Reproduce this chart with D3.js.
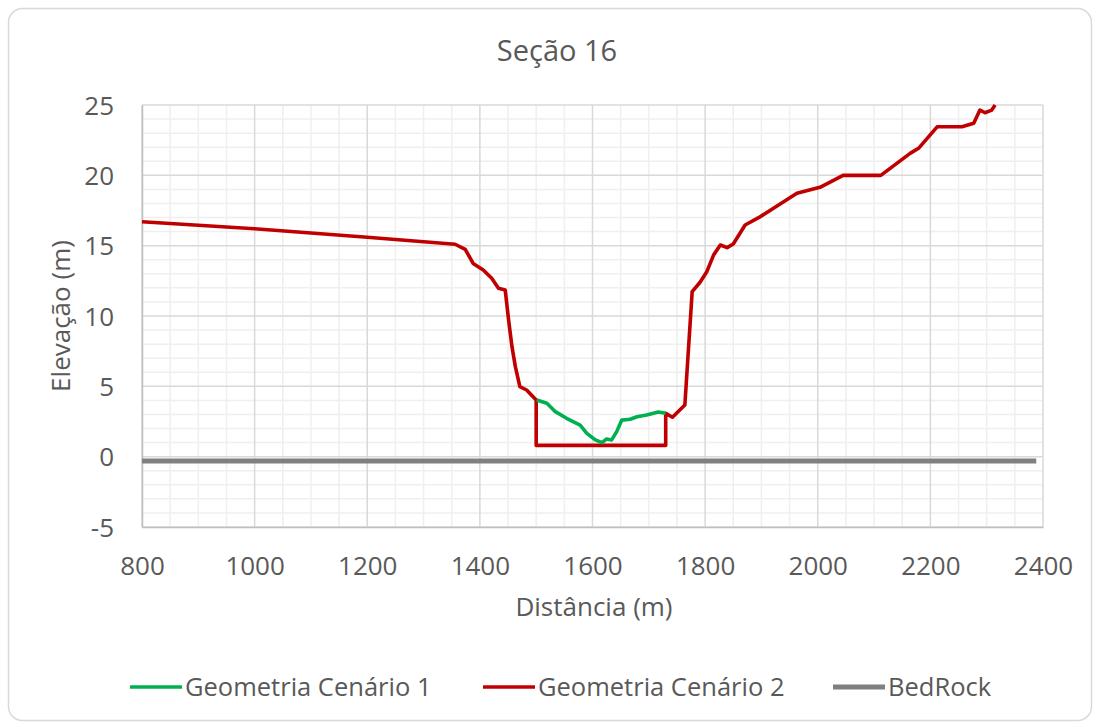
<!DOCTYPE html>
<html>
<head>
<meta charset="utf-8">
<script src="https://cdn.jsdelivr.net/npm/d3@7"></script>
<style>
  html, body { margin: 0; padding: 0; background: #ffffff; }
  svg { display: block; }
  text { font-family: "Open Sans", sans-serif; fill: #595959; }
</style>
</head>
<body>
<svg id="chart" width="1100" height="727"></svg>
<script>
// Cross-section profile, Seção 16
const title = "Seção 16";
const xTicks = [800, 1000, 1200, 1400, 1600, 1800, 2000, 2200, 2400];
const yTicks = [-5, 0, 5, 10, 15, 20, 25];

// Geometria Cenário 1 (natural channel bed)
const cenario1 = [
  [1501, 4.03], [1519, 3.8], [1534, 3.2], [1554, 2.73], [1578, 2.25],
  [1590, 1.66], [1605, 1.19], [1617, 1.0], [1625, 1.26], [1634, 1.19],
  [1643, 1.78], [1652, 2.6], [1667, 2.66], [1679, 2.84], [1696, 2.96],
  [1717, 3.18], [1730, 3.08]
];

// Geometria Cenário 2 (banks with the excavated rectangular channel)
const cenario2 = [
  [800, 16.7], [1000, 16.2], [1200, 15.6], [1356, 15.1], [1374, 14.74],
  [1388, 13.74], [1406, 13.27], [1421, 12.68], [1433, 11.97], [1445, 11.85],
  [1451, 9.72], [1457, 7.82], [1463, 6.4], [1471, 4.98], [1483, 4.74],
  [1500, 4.03], [1500, 0.8], [1730, 0.8], [1730, 3.08], [1742, 2.8],
  [1764, 3.67], [1777, 11.73], [1791, 12.4], [1803, 13.15], [1815, 14.33],
  [1827, 15.05], [1839, 14.86], [1850, 15.12], [1871, 16.47], [1895, 16.99],
  [1963, 18.72], [2004, 19.15], [2045, 20.0], [2112, 20.0], [2164, 21.56],
  [2179, 21.92], [2212, 23.45], [2256, 23.45], [2277, 23.7], [2288, 24.64],
  [2297, 24.45], [2309, 24.64], [2315, 25.0]
];

// BedRock level
const bedrock = [[800, -0.3], [2388, -0.3]];

const legendItems = [
  { label: "Geometria Cenário 1", color: "#00b050" },
  { label: "Geometria Cenário 2", color: "#c00000" },
  { label: "BedRock", color: "#808080" }
];

const svg = d3.select("#chart");

// outer chart frame
svg.append("rect")
  .attr("x", 8.5).attr("y", 8.5)
  .attr("width", 1083).attr("height", 712)
  .attr("rx", 14)
  .attr("fill", "#ffffff")
  .attr("stroke", "#d9d9d9")
  .attr("stroke-width", 1.5);

const plot = { left: 142, right: 1043, top: 105, bottom: 527 };

const x = d3.scaleLinear().domain([800, 2400]).range([plot.left, plot.right]);
const y = d3.scaleLinear().domain([-5, 25]).range([plot.bottom, plot.top]);

const g = svg.append("g");

// minor gridlines
g.append("g").selectAll("line")
  .data(d3.range(800, 2401, 50).filter(v => v % 200 !== 0))
  .join("line")
  .attr("x1", d => x(d)).attr("x2", d => x(d))
  .attr("y1", plot.top).attr("y2", plot.bottom)
  .attr("stroke", "#efefef").attr("stroke-width", 1.5);
g.append("g").selectAll("line")
  .data(d3.range(-5, 26, 1).filter(v => v % 5 !== 0))
  .join("line")
  .attr("x1", plot.left).attr("x2", plot.right)
  .attr("y1", d => y(d)).attr("y2", d => y(d))
  .attr("stroke", "#efefef").attr("stroke-width", 1.5);

// major gridlines
g.append("g").selectAll("line")
  .data(xTicks)
  .join("line")
  .attr("x1", d => x(d)).attr("x2", d => x(d))
  .attr("y1", plot.top).attr("y2", plot.bottom)
  .attr("stroke", "#d9d9d9").attr("stroke-width", 1.5);
g.append("g").selectAll("line")
  .data(yTicks)
  .join("line")
  .attr("x1", plot.left).attr("x2", plot.right)
  .attr("y1", d => y(d)).attr("y2", d => y(d))
  .attr("stroke", "#d9d9d9").attr("stroke-width", 1.5);

// axes
const fmt = d => String(d);
const xAxis = d3.axisBottom(x).tickValues(xTicks).tickFormat(fmt).tickSize(0);
const yAxis = d3.axisLeft(y).tickValues(yTicks).tickFormat(fmt).tickSize(0);

const gx = svg.append("g").attr("transform", `translate(0,${plot.bottom})`).call(xAxis);
gx.select(".domain").attr("stroke", "#bfbfbf").attr("stroke-width", 1.5);
gx.selectAll("text")
  .attr("y", 48).attr("dy", null)
  .style("font-size", "26px").attr("fill", "#595959");

const gy = svg.append("g").attr("transform", `translate(${plot.left},0)`).call(yAxis);
gy.select(".domain").attr("stroke", "#bfbfbf").attr("stroke-width", 1.5);
gy.selectAll("text")
  .attr("x", -28).attr("dy", "0.35em")
  .style("font-size", "26px").attr("fill", "#595959");

// series
const line = d3.line().x(d => x(d[0])).y(d => y(d[1]));

svg.append("path").datum(bedrock)
  .attr("d", line).attr("fill", "none")
  .attr("stroke", "#808080").attr("stroke-width", 5);

svg.append("path").datum(cenario2)
  .attr("d", line).attr("fill", "none")
  .attr("stroke", "#c00000").attr("stroke-width", 3.6)
  .attr("stroke-linejoin", "round");

svg.append("path").datum(cenario1)
  .attr("d", line).attr("fill", "none")
  .attr("stroke", "#00b050").attr("stroke-width", 3.6)
  .attr("stroke-linejoin", "round");

// title
svg.append("text")
  .attr("x", 557).attr("y", 61)
  .attr("text-anchor", "middle")
  .style("font-size", "29px")
  .text(title);

// axis titles
svg.append("text")
  .attr("x", 594).attr("y", 616)
  .attr("text-anchor", "middle")
  .style("font-size", "26px")
  .text("Distância (m)");

svg.append("text")
  .attr("transform", "translate(70,316) rotate(-90)")
  .attr("text-anchor", "middle")
  .style("font-size", "26px")
  .text("Elevação (m)");

// legend
const legendX = [130, 483, 833];
const lg = svg.append("g");
legendItems.forEach((item, i) => {
  const lx = legendX[i];
  lg.append("line")
    .attr("x1", lx).attr("x2", lx + 52)
    .attr("y1", 687).attr("y2", 687)
    .attr("stroke", item.color)
    .attr("stroke-width", i === 2 ? 5 : 3.6);
  lg.append("text")
    .attr("x", lx + 55).attr("y", 696)
    .style("font-size", "25.5px")
    .text(item.label);
});
</script>
</body>
</html>
